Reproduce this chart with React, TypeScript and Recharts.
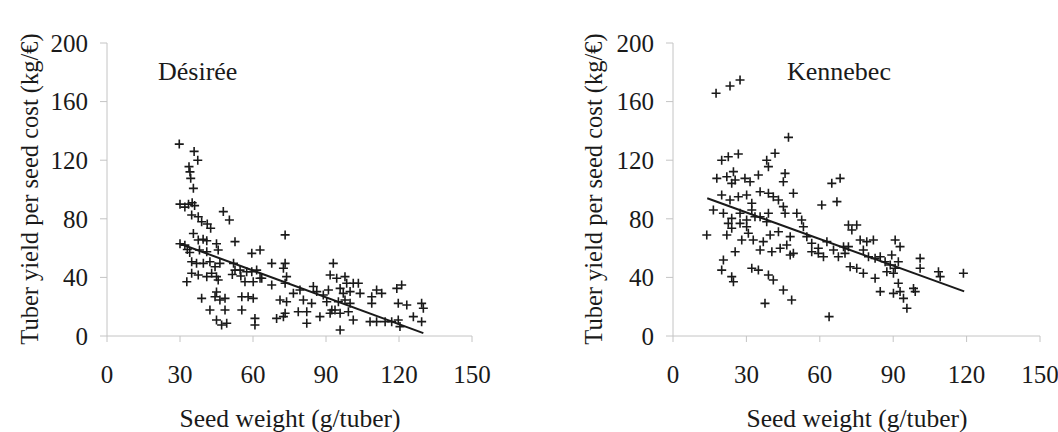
import { ScatterChart, Scatter, XAxis, YAxis } from "recharts";

// Désirée: seed weight (g/tuber) vs tuber yield per seed cost (kg/€)
const desireeWeight = [
  29.7, 35.8, 37.3, 33.7, 34.1, 34.4, 35.5, 30, 32, 33.5, 35, 36, 34.8, 37.5, 38.9, 41.2, 42.6, 47.8, 50.3, 35.5,
  37.5, 39.5, 41, 30, 32, 33, 34, 38, 41, 45, 45.7, 52.6, 34.8, 36.8, 39.6, 42.3, 44.4, 46.4, 34.8, 37.5,
  41, 43, 45, 45.7, 32.8, 52, 52.6, 54.7, 57.4, 59.5, 61.5, 63.6, 51.5, 55, 56.7, 60.1, 62.9, 67.7, 59.5, 62.9,
  67.7, 72.5, 73.2, 73.2, 38.9, 44.4, 46.4, 48.5, 45, 55.4, 58, 60.1, 42.3, 48.5, 55.4, 45, 47.1, 49.2, 60.8, 60.8,
  69.7, 72.5, 71.1, 73.8, 73.2, 73.8, 73.2, 76.6, 79.3, 80.7, 78.6, 82.1, 84.1, 86.2, 87.5, 82.1, 84.8, 88.9, 91, 90.3,
  92.4, 91.7, 93, 91.7, 94.4, 97.8, 98.5, 101.2, 103.3, 95.8, 97.1, 99.9, 104, 95.1, 97.8, 99.9, 99.2, 101.2, 93.7, 95.8,
  95.8, 108.8, 110.8, 112.9, 108.8, 108.1, 110.8, 114.3, 117, 119.7, 119.1, 121.1, 119.7, 123.2, 120.4, 125.9, 129.3, 129.3, 130,
];
const desireeYield = [
  131, 126, 120, 115.6, 112, 107.6, 100.8, 90, 88, 90, 91, 89, 82.6, 81.4, 78, 76.5, 73.5, 84.9, 79.2, 70,
  65.5, 66, 65, 63, 62, 59, 57, 58.7, 57.5, 63, 58.7, 64.4, 50.7, 49.6, 49.6, 50.7, 47.3, 49.6, 42.8, 41.6,
  40.5, 42.8, 40.5, 38.2, 37, 49.6, 45, 45, 43.9, 43.9, 45, 39.4, 42, 41, 37, 37, 39.4, 34.8, 56.4, 58.7,
  49.6, 46.2, 49.6, 69, 25.7, 26.8, 24.6, 25.7, 30, 26.8, 26.8, 25.7, 17.7, 17.7, 17.7, 10.9, 7.5, 8.7, 12, 7.5,
  12, 13.2, 24.6, 23.4, 36, 40.5, 15.5, 29.1, 31.4, 24.6, 16.6, 16.6, 22.3, 30.3, 13.2, 8.7, 33.8, 28, 31.4, 23.4,
  17.7, 15.5, 49.6, 41.6, 39.4, 40.5, 36, 36, 36, 32.5, 29.1, 30.3, 29.1, 23.4, 24.6, 22.3, 16.6, 10.9, 17.7, 15.5,
  4.1, 22.3, 31.4, 29.1, 26.8, 9.8, 9.8, 9.8, 9.8, 10.9, 32.5, 34.8, 22.3, 21.2, 6.4, 13.2, 9.8, 22.3, 18.9,
];
const desireeTrend = [
  { x: 30, y: 63 },
  { x: 130, y: 2 },
];

// Kennebec
const kennebecWeight = [
  17.6, 23.3, 27.4, 47.2, 19.9, 22.6, 26.7, 38.3, 41.7, 39, 17.9, 22, 24.7, 25.4, 24, 29.4, 31.5, 34.9, 45.8, 45.1,
  19.9, 23.3, 26.7, 30.1, 32.2, 35.6, 39, 41, 43.1, 49.2, 16.5, 20.6, 24, 27.4, 30.1, 33.5, 32.2, 39, 35.6, 45.1,
  45.8, 22.6, 24, 27.4, 30.1, 38.3, 50.6, 52.6, 53.3, 13.8, 22, 28.1, 30.8, 32.8, 36.9, 39.7, 43.1, 47.9, 46.5, 49.2,
  54.7, 56.7, 59.4, 62.9, 56.7, 59.4, 61.5, 65.6, 67.6, 70.3, 64.9, 68.3, 60.8, 67, 25.4, 35.6, 40.4, 43.8, 47.9, 20.6,
  19.9, 24, 24.7, 32.2, 34.9, 39, 41, 45.1, 48.5, 37.6, 63.8, 71.7, 75.1, 73.1, 69.7, 71.7, 76.5, 79.2, 81.9, 77.8,
  79.9, 82.6, 84.7, 90.8, 92.8, 89.4, 92.1, 86.7, 88.8, 90.8, 87.4, 90.1, 72.4, 75.1, 77.8, 82.6, 101, 101, 108.5, 109.2,
  118.7, 84.7, 90.1, 92.8, 94.2, 95.6, 92.1, 98.3, 99,
];
const kennebecYield = [
  165.7, 170.6, 174.7, 135.6, 120, 122.4, 124.2, 120, 124.7, 115.6, 107.6, 108.7, 112.2, 106.5, 104.2, 107.6, 105.3, 109.9, 111, 105.3,
  96.2, 92.8, 95.1, 96.2, 90.6, 98.5, 97.4, 95.1, 92.8, 97.4, 86, 83.8, 80.3, 83.8, 79.2, 81.4, 86, 83.8, 81.4, 88.3,
  83.8, 76.9, 73.5, 76.9, 74.6, 78, 83.8, 79.2, 74.6, 68.9, 68.9, 65.5, 70.1, 65.5, 64.4, 68.9, 71.2, 67.8, 62.1, 56.4,
  67.8, 63.3, 59.9, 64.4, 57.5, 56.4, 54.1, 58.7, 54.1, 56.4, 104.2, 107.6, 89.4, 91.7, 57.5, 58.7, 57.5, 59.9, 55.3, 51.9,
  45, 40.5, 37, 46.2, 45, 41.6, 38.2, 31.4, 24.6, 22.3, 13.2, 75.8, 75.8, 72.4, 61, 61, 65.5, 64.4, 65.5, 58.7,
  54.1, 53, 54.1, 65.5, 61, 55.3, 50.7, 50.7, 48.5, 46.2, 43.9, 42.8, 47.3, 46.2, 42.8, 39.4, 53, 46.2, 43.9, 40.5,
  42.8, 30.3, 29.1, 30.3, 25.7, 18.9, 36, 32.5, 30.3,
];
const kennebecTrend = [
  { x: 14, y: 94 },
  { x: 119, y: 30.5 },
];

const xTicks = [0, 30, 60, 90, 120, 150];
const yTicks = [0, 40, 80, 120, 160, 200];

const FONT = "'Liberation Serif', 'DejaVu Serif', serif";
const AXIS = "#c4c4c4";
const INK = "#1a1a1a";

const toPoints = (xs: number[], ys: number[]) => xs.map((x, i) => ({ x, y: ys[i] }));

const Plus = (props: any) => {
  const { cx, cy } = props;
  if (cx == null || cy == null) return <g />;
  return (
    <path
      d={`M${cx - 4.5},${cy}H${cx + 4.5}M${cx},${cy - 4.5}V${cy + 4.5}`}
      stroke={INK}
      strokeWidth={1.6}
      fill="none"
    />
  );
};

const NoDot = () => <g />;

const Panel = ({ points, trend, yAxisWidth, right }: any) => (
  <ScatterChart
    width={529}
    height={432}
    margin={{ top: 43, right, bottom: 0, left: 0 }}
  >
    <XAxis
      type="number"
      dataKey="x"
      domain={[0, 150]}
      ticks={xTicks}
      interval={0}
      height={96}
      tickSize={6}
      tickMargin={23}
      axisLine={{ stroke: AXIS }}
      tickLine={{ stroke: AXIS }}
      tick={{ fill: INK, fontSize: 25, fontFamily: FONT }}
    />
    <YAxis
      type="number"
      dataKey="y"
      domain={[0, 200]}
      ticks={yTicks}
      interval={0}
      width={yAxisWidth}
      tickSize={7}
      tickMargin={12}
      axisLine={{ stroke: AXIS }}
      tickLine={{ stroke: AXIS }}
      tick={{ fill: INK, fontSize: 25, fontFamily: FONT }}
    />
    <Scatter data={points} shape={Plus} isAnimationActive={false} />
    <Scatter
      data={trend}
      shape={NoDot}
      line={{ stroke: INK, strokeWidth: 2 }}
      isAnimationActive={false}
    />
  </ScatterChart>
);

export default function App() {
  const yTitle = "Tuber yield per seed cost (kg/€)";
  const xTitle = "Seed weight (g/tuber)";
  return (
    <div style={{ position: "absolute", left: 0, top: 0, width: 1058, height: 432, background: "#fff" }}>
      <div style={{ position: "absolute", left: 0, top: 0 }}>
        <Panel points={toPoints(desireeWeight, desireeYield)} trend={desireeTrend} yAxisWidth={107} right={57} />
      </div>
      <div style={{ position: "absolute", left: 529, top: 0 }}>
        <Panel points={toPoints(kennebecWeight, kennebecYield)} trend={kennebecTrend} yAxisWidth={144} right={18} />
      </div>
      <svg
        width={1058}
        height={432}
        style={{ position: "absolute", left: 0, top: 0, pointerEvents: "none" }}
        fontFamily={FONT}
        fill={INK}
      >
        <text x={158} y={80} fontSize={26}>Désirée</text>
        <text x={787} y={80} fontSize={26}>Kennebec</text>
        <text x={290} y={427} fontSize={25.5} textAnchor="middle">{xTitle}</text>
        <text x={857} y={427} fontSize={25.5} textAnchor="middle">{xTitle}</text>
        <text x={38} y={189} fontSize={24.5} textAnchor="middle" transform="rotate(-90 38 189)">{yTitle}</text>
        <text x={602} y={189} fontSize={24.5} textAnchor="middle" transform="rotate(-90 602 189)">{yTitle}</text>
      </svg>
    </div>
  );
}
